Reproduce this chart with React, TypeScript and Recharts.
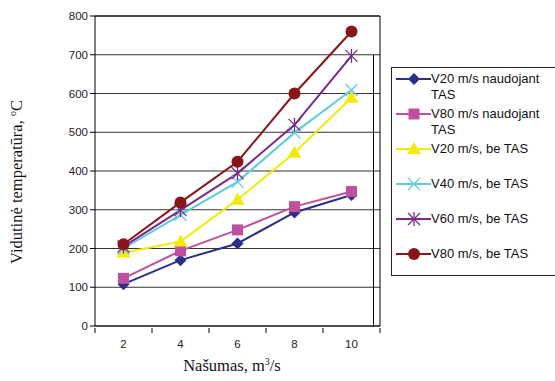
import React from 'react';
import { LineChart, Line, XAxis, YAxis, CartesianGrid, ReferenceLine } from 'recharts';

const flows = [2, 4, 6, 8, 10];
const yTicks = [0, 100, 200, 300, 400, 500, 600, 700, 800];

const v20Tas = [108, 170, 213, 293, 338];
const v80Tas = [123, 194, 248, 308, 347];
const v20 = [189, 218, 326, 447, 589];
const v40 = [200, 287, 372, 499, 609];
const v60 = [205, 299, 394, 519, 697];
const v80 = [211, 319, 424, 600, 760];

const seriesNames = [
  ['V20 m/s naudojant', 'TAS'],
  ['V80 m/s naudojant', 'TAS'],
  ['V20 m/s, be TAS'],
  ['V40 m/s, be TAS'],
  ['V60 m/s, be TAS'],
  ['V80 m/s, be TAS'],
];

type Shape = 'diamond' | 'square' | 'triangle' | 'cross' | 'star' | 'circle';

const series: { key: string; values: number[]; color: string; shape: Shape }[] = [
  { key: 's1', values: v20Tas, color: '#2b2f86', shape: 'diamond' },
  { key: 's2', values: v80Tas, color: '#c0509f', shape: 'square' },
  { key: 's3', values: v20, color: '#f3ea0a', shape: 'triangle' },
  { key: 's4', values: v40, color: '#5fcbdc', shape: 'cross' },
  { key: 's5', values: v60, color: '#7a2a8a', shape: 'star' },
  { key: 's6', values: v80, color: '#8a1518', shape: 'circle' },
];

const data = flows.map((x, i) => {
  const row: any = { x };
  series.forEach((s) => { row[s.key] = s.values[i]; });
  return row;
});

function Marker({ cx, cy, shape, color }: { cx: number; cy: number; shape: Shape; color: string }) {
  if (cx == null || cy == null) return null;
  switch (shape) {
    case 'diamond':
      return <polygon points={`${cx},${cy - 6} ${cx + 6},${cy} ${cx},${cy + 6} ${cx - 6},${cy}`} fill={color} />;
    case 'square':
      return <rect x={cx - 5.5} y={cy - 5.5} width={11} height={11} fill={color} />;
    case 'triangle':
      return <polygon points={`${cx},${cy - 7} ${cx + 7},${cy + 5} ${cx - 7},${cy + 5}`} fill={color} />;
    case 'cross':
      return (
        <g stroke={color} strokeWidth={1.3}>
          <line x1={cx - 6} y1={cy - 6} x2={cx + 6} y2={cy + 6} />
          <line x1={cx - 6} y1={cy + 6} x2={cx + 6} y2={cy - 6} />
        </g>
      );
    case 'star':
      return (
        <g stroke={color} strokeWidth={1.3}>
          <line x1={cx - 6} y1={cy - 6} x2={cx + 6} y2={cy + 6} />
          <line x1={cx - 6} y1={cy + 6} x2={cx + 6} y2={cy - 6} />
          <line x1={cx} y1={cy - 7} x2={cx} y2={cy + 7} />
        </g>
      );
    default:
      return <circle cx={cx} cy={cy} r={6} fill={color} />;
  }
}

const XTick = ({ x, y, payload }: any) => {
  const v = payload.value;
  if (v % 2 === 1) {
    return <line x1={x} y1={y - 6} x2={x} y2={y - 1} stroke="#000" />;
  }
  return (
    <text x={x} y={y + 14} textAnchor="middle" fontSize={11.5} fontFamily="Arial, Liberation Sans, sans-serif" fill="#222">
      {v}
    </text>
  );
};

function Legend() {
  return (
    <div style={{ position: 'absolute', left: 391, top: 67, width: 180, height: 209, border: '1px solid #222', boxSizing: 'border-box', background: '#fff' }}>
      {series.map((s, i) => (
        <div key={s.key} style={{ position: 'absolute', left: 0, top: 3 + i * 35, height: 32 }}>
          <svg width={40} height={16} style={{ position: 'absolute', left: 2, top: 0 }}>
            <line x1={2} y1={8} x2={37} y2={8} stroke={s.color} strokeWidth={2} />
            <Marker cx={20} cy={8} shape={s.shape} color={s.color} />
          </svg>
          <div style={{ position: 'absolute', left: 39, top: 0, fontFamily: 'Arial, Liberation Sans, sans-serif', fontSize: 13, lineHeight: '16px', color: '#111', whiteSpace: 'nowrap' }}>
            {seriesNames[i].map((t) => <div key={t}>{t}</div>)}
          </div>
        </div>
      ))}
    </div>
  );
}

export default function App() {
  return (
    <div style={{ position: 'absolute', left: 0, top: 0, width: 555, height: 381, background: '#fff', overflow: 'hidden' }}>
      <LineChart width={555} height={381} data={data} margin={{ top: 16, right: 175, left: 0, bottom: 25 }}>
        <CartesianGrid horizontal vertical={false} stroke="#333" strokeWidth={1} />
        <XAxis
          dataKey="x"
          type="number"
          domain={[1, 11]}
          ticks={[1, 2, 3, 4, 5, 6, 7, 8, 9, 10, 11]}
          tick={<XTick />}
          tickLine={false}
          axisLine={{ stroke: '#000' }}
          interval={0}
          height={30}
        />
        <YAxis
          domain={[0, 800]}
          ticks={yTicks}
          width={95}
          tickSize={5}
          tickLine={{ stroke: '#000' }}
          axisLine={{ stroke: '#000' }}
          tick={{ fontSize: 11.5, fill: '#222', fontFamily: 'Arial, Liberation Sans, sans-serif' }}
          interval={0}
        />
        <ReferenceLine x={11} stroke="#000" />
        <ReferenceLine y={800} stroke="#000" />
        {series.map((s) => (
          <Line
            key={s.key}
            dataKey={s.key}
            stroke={s.color}
            strokeWidth={2}
            type="linear"
            isAnimationActive={false}
            dot={(p: any) => <Marker key={`${s.key}-${p.index}`} cx={p.cx} cy={p.cy} shape={s.shape} color={s.color} />}
            activeDot={false}
          />
        ))}
      </LineChart>
      <div style={{ position: 'absolute', left: 373, top: 55, width: 1, height: 272, background: '#000' }} />
      <Legend />
      <div style={{ position: 'absolute', left: 17, top: 182, transform: 'translate(-50%, -50%) rotate(-90deg)', fontFamily: 'Liberation Serif, Times New Roman, serif', fontSize: 16.5, whiteSpace: 'nowrap', color: '#111' }}>
        Vidutinė temperatūra, <sup style={{ fontSize: 10 }}>o</sup>C
      </div>
      <div style={{ position: 'absolute', left: 232, top: 366, transform: 'translate(-50%, -50%)', fontFamily: 'Liberation Serif, Times New Roman, serif', fontSize: 16.5, whiteSpace: 'nowrap', color: '#111' }}>
        Našumas, m<sup style={{ fontSize: 10 }}>3</sup>/s
      </div>
    </div>
  );
}
